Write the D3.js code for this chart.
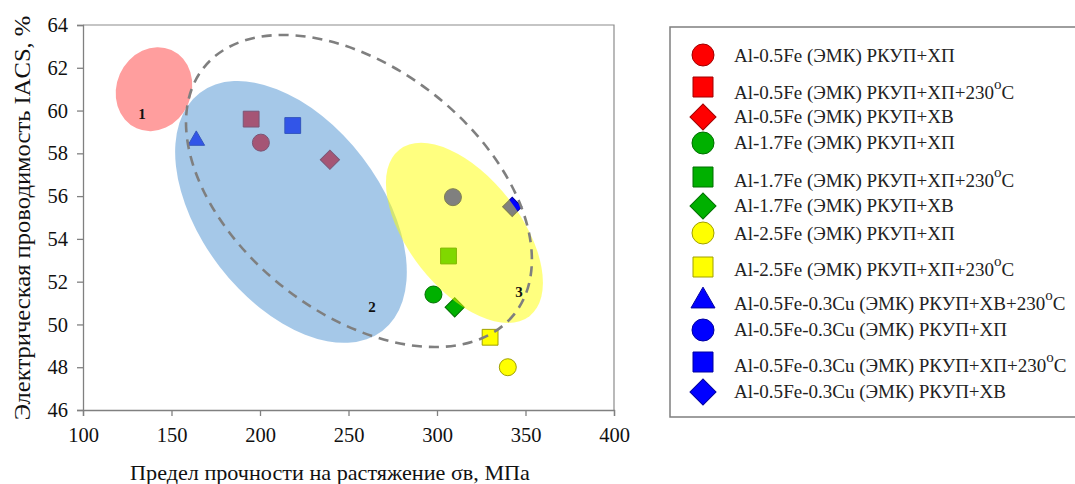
<!DOCTYPE html>
<html><head><meta charset="utf-8">
<script src="https://cdn.jsdelivr.net/npm/d3@7"></script>
<style>
body{margin:0;background:#fff;}
svg{display:block;}
svg text{font-family:"Liberation Serif","Times New Roman","DejaVu Serif",serif;}
</style></head>
<body>
<svg id="c" width="1075" height="484"></svg>
<script>
// ---- data ----
const seriesNames = [
  "Al-0.5Fe (ЭМК) РКУП+ХП",
  "Al-0.5Fe (ЭМК) РКУП+ХП+230°C",
  "Al-0.5Fe (ЭМК) РКУП+ХВ",
  "Al-1.7Fe (ЭМК) РКУП+ХП",
  "Al-1.7Fe (ЭМК) РКУП+ХП+230°C",
  "Al-1.7Fe (ЭМК) РКУП+ХВ",
  "Al-2.5Fe (ЭМК) РКУП+ХП",
  "Al-2.5Fe (ЭМК) РКУП+ХП+230°C",
  "Al-0.5Fe-0.3Cu (ЭМК) РКУП+ХВ+230°C",
  "Al-0.5Fe-0.3Cu (ЭМК) РКУП+ХП",
  "Al-0.5Fe-0.3Cu (ЭМК) РКУП+ХП+230°C",
  "Al-0.5Fe-0.3Cu (ЭМК) РКУП+ХВ"
];
const seriesColors = ["#ff0000","#ff0000","#ff0000","#00b000","#00b000","#00b000",
                      "#ffff00","#ffff00","#0000ff","#0000ff","#0000ff","#0000ff"];
const seriesShapes = ["circle","square","diamond","circle","square","diamond",
                      "circle","square","triangle","circle","square","diamond"];
const strengthValues     = [200.5, 195, 239.5, 298, 306.5, 310, 340, 330, 164, 309, 218.5, 342.5];
const conductivityValues = [58.5, 59.6, 57.7, 51.4, 53.2, 50.8, 48.0, 49.4, 58.6, 55.95, 59.3, 55.5];

const xTicks = [100,150,200,250,300,350,400];
const yTicks = [46,48,50,52,54,56,58,60,62,64];

// groups (ellipses) in data units: centre x, centre y, semi-axes in x-units, rotation
const groupLabels = ["1","2","3"];
const groupLabelX = [133.3, 263.3, 346.3];
const groupLabelY = [59.84, 50.82, 51.52];
const ellipseCX = [140.1, 217.5, 315.5, 255.9];
const ellipseCY = [61.0, 55.26, 54.28, 56.24];
const ellipseA  = [24.2, 84.7, 59.7, 112.0];
const ellipseB  = [21.1, 50.8, 31.5, 69.1];
const ellipseRot= [-66, 52.5, 52, 38.4];

const xTitle = "Предел прочности на растяжение σв, МПа";
const yTitle = "Электрическая проводимость IACS, %";

// ---- layout ----
const SERIF = "Liberation Serif";
const svg = d3.select("#c");
const L = 83, R = 614, T = 25, B = 410;
const x = d3.scaleLinear().domain([100,400]).range([L,R]);
const y = d3.scaleLinear().domain([46,64]).range([B,T]);
const unit = x(101) - x(100);

// plot frame top/right
svg.append("path").attr("d",`M${L},${T}H${R}V${B}`).attr("fill","none").attr("stroke","#8c8c8c").attr("stroke-width",1.2);

function symPath(shape, big){
  const s = big ? {circle:380, square:400, diamond:340, triangle:250}
                : {circle:227, square:250, diamond:185, triangle:120};
  const t = {circle:d3.symbolCircle, square:d3.symbolSquare, diamond:d3.symbolSquare, triangle:d3.symbolTriangle}[shape];
  return d3.symbol().type(t).size(s[shape])();
}

// points
const pts = svg.append("g");
seriesNames.forEach((n,i)=>{
  const c = seriesColors[i];
  pts.append("path")
    .attr("d", symPath(seriesShapes[i], false))
    .attr("transform", `translate(${x(strengthValues[i])},${y(conductivityValues[i])})` + (seriesShapes[i]==="diamond"?" rotate(45)":""))
    .attr("fill", c)
    .attr("stroke", d3.color(c).darker(1.3))
    .attr("stroke-width", 1);
});

// ellipses
const fills = ["#ff0000","#5b9bd5","#ffff00"];
const opac = [0.38, 0.55, 0.5];
const eg = svg.append("g");
for(let i=0;i<4;i++){
  const e = eg.append("ellipse")
    .attr("cx",0).attr("cy",0)
    .attr("rx", ellipseA[i]*unit).attr("ry", ellipseB[i]*unit)
    .attr("transform",`translate(${x(ellipseCX[i])},${y(ellipseCY[i])}) rotate(${ellipseRot[i]})`);
  if(i<3){ e.attr("fill",fills[i]).attr("fill-opacity",opac[i]).attr("stroke","none"); }
  else { e.attr("fill","none").attr("stroke","#7f7f7f").attr("stroke-width",2.6).attr("stroke-dasharray","10,7"); }
}

// group labels
groupLabels.forEach((g,i)=>{
  svg.append("text").attr("x",x(groupLabelX[i])).attr("y",y(groupLabelY[i]))
    .attr("text-anchor","middle").attr("dominant-baseline","central")
    .attr("font-family",SERIF)
    .attr("font-weight","bold").attr("font-size",15).attr("fill","#111").text(g);
});

// axes
const xa = svg.append("g").attr("transform",`translate(0,${B})`)
  .call(d3.axisBottom(x).tickValues(xTicks).tickSize(6).tickPadding(11).tickFormat(d3.format("d")));
const ya = svg.append("g").attr("transform",`translate(${L},0)`)
  .call(d3.axisLeft(y).tickValues(yTicks).tickSize(6).tickPadding(9).tickFormat(d3.format("d")));
[xa,ya].forEach(a=>{
  a.attr("font-family",SERIF);
  a.selectAll("path,line").attr("stroke","#808080").attr("stroke-width",1.3);
  a.selectAll("text").attr("font-family",SERIF).attr("font-size",20.5).attr("fill","#111");
});

// titles (stretched to the reference's text extent)
function fitText(t, target){
  const w = t.node().getComputedTextLength();
  return target / w;
}
const xt = svg.append("text").attr("text-anchor","middle").attr("font-family",SERIF)
  .attr("font-size",22).attr("fill","#111").text(xTitle);
const sxX = fitText(xt, 400);
xt.attr("transform",`translate(330,480) scale(${sxX},1)`);

const yt = svg.append("text").attr("text-anchor","middle").attr("dominant-baseline","central")
  .attr("font-family",SERIF)
  .attr("font-size",23).attr("fill","#111").text(yTitle);
const sxY = fitText(yt, 405);
yt.attr("transform",`translate(22,218) rotate(-90) scale(${sxY},1)`);

// legend
const legX = 670, legY = 27, legB = 417;
svg.append("path").attr("d",`M1080,${legY}H${legX}V${legB}H1080`).attr("fill","#fff")
  .attr("stroke","#7f7f7f").attr("stroke-width",1.5);
const symY = [55,87,117,143,177,206,233,267,301,330,362,392];
const txtY = [56,92,117,143,180,206,234,269,303,330,365,392];
const legTexts = [];
seriesNames.forEach((n,i)=>{
  const c = seriesColors[i];
  svg.append("path").attr("d", symPath(seriesShapes[i], true))
    .attr("transform",`translate(703,${symY[i]})` + (seriesShapes[i]==="diamond"?" rotate(45)":""))
    .attr("fill",c).attr("stroke",d3.color(c).darker(1.3)).attr("stroke-width",1);
  const t = svg.append("text").attr("x",0).attr("y",0).attr("dominant-baseline","central")
    .attr("font-family",SERIF)
    .attr("font-size",19).attr("fill","#222");
  if(n.includes("°")){
    const parts = n.split("°");
    t.append("tspan").text(parts[0]);
    t.append("tspan").attr("dy",-8).attr("font-size",15).text("o");
    t.append("tspan").attr("dy",8).text(parts[1]);
  } else t.text(n);
  legTexts.push(t);
});
const sxL = fitText(legTexts[0], 221);
legTexts.forEach((t,i)=> t.attr("transform",`translate(734,${txtY[i]}) scale(${sxL},1)`));
</script>
</body></html>
